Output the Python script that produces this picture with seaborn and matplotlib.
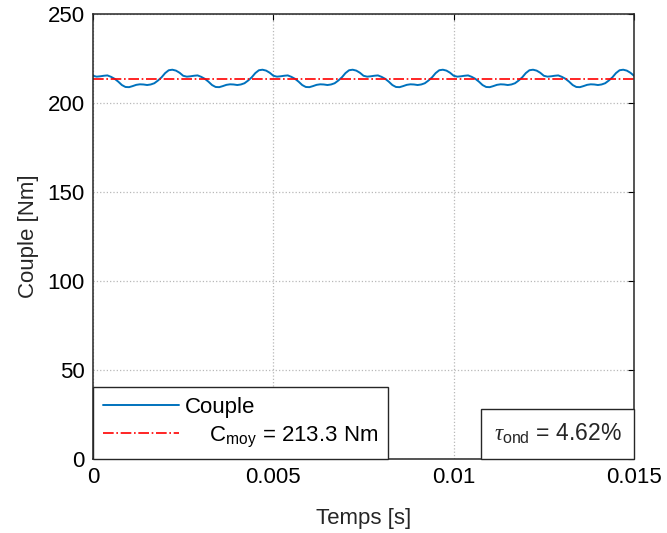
import numpy as np
import pandas as pd
import matplotlib
matplotlib.use("Agg")
import matplotlib.pyplot as plt
import seaborn as sns
from matplotlib.offsetbox import AnchoredText

# ---------------- data ----------------
t_start = 0.0
t_end = 0.015
n_samples = 151
couple = [
    215.3, 214.8, 215.0, 215.3, 215.5, 214.7, 213.6, 212.0, 210.1, 209.0,
    208.9, 209.5, 210.2, 210.5, 210.4, 210.1, 210.4, 211.1, 212.6, 214.4,
    216.8, 218.4, 218.7, 218.2, 217.0,
    215.3, 214.8, 215.0, 215.3, 215.5, 214.7, 213.6, 212.0, 210.1, 209.0,
    208.9, 209.5, 210.2, 210.5, 210.4, 210.1, 210.4, 211.1, 212.6, 214.4,
    216.8, 218.4, 218.7, 218.2, 217.0,
    215.3, 214.8, 215.0, 215.3, 215.5, 214.7, 213.6, 212.0, 210.1, 209.0,
    208.9, 209.5, 210.2, 210.5, 210.4, 210.1, 210.4, 211.1, 212.6, 214.4,
    216.8, 218.4, 218.7, 218.2, 217.0,
    215.3, 214.8, 215.0, 215.3, 215.5, 214.7, 213.6, 212.0, 210.1, 209.0,
    208.9, 209.5, 210.2, 210.5, 210.4, 210.1, 210.4, 211.1, 212.6, 214.4,
    216.8, 218.4, 218.7, 218.2, 217.0,
    215.3, 214.8, 215.0, 215.3, 215.5, 214.7, 213.6, 212.0, 210.1, 209.0,
    208.9, 209.5, 210.2, 210.5, 210.4, 210.1, 210.4, 211.1, 212.6, 214.4,
    216.8, 218.4, 218.7, 218.2, 217.0,
    215.3, 214.8, 215.0, 215.3, 215.5, 214.7, 213.6, 212.0, 210.1, 209.0,
    208.9, 209.5, 210.2, 210.5, 210.4, 210.1, 210.4, 211.1, 212.6, 214.4,
    216.8, 218.4, 218.7, 218.2, 217.0,
    215.3,
]
c_moy = 213.3
tau_ond = 4.62
x_ticks = [0, 0.005, 0.01, 0.015]
x_tick_labels = ["0", "0.005", "0.01", "0.015"]
y_ticks = [0, 50, 100, 150, 200, 250]
y_tick_labels = ["0", "50", "100", "150", "200", "250"]

temps = np.linspace(t_start, t_end, n_samples)
df = pd.DataFrame({"Temps": temps, "Couple": couple})

# ---------------- style ----------------
sns.set_theme(style="white")
plt.rcParams["font.family"] = ["Liberation Sans", "DejaVu Sans"]
plt.rcParams["mathtext.fontset"] = "custom"
plt.rcParams["mathtext.rm"] = "Liberation Sans"
plt.rcParams["mathtext.it"] = "Liberation Serif:italic"

FS = 16
fig = plt.figure(figsize=(6.67, 5.33), dpi=100)
ax = fig.add_axes([93 / 667, 1 - 459 / 533, (634 - 93) / 667, (459 - 14) / 533])

sns.lineplot(data=df, x="Temps", y="Couple", ax=ax, color="#0072BD",
             linewidth=1.4, label="Couple")
ax.axhline(c_moy, color="#FF0000", linestyle="-.", linewidth=1.2,
           label=r"    C$_{\mathrm{moy}}$ = %.1f Nm" % c_moy)

ax.set_xlim(x_ticks[0], x_ticks[-1])
ax.set_ylim(y_ticks[0], y_ticks[-1])
ax.set_xticks(x_ticks)
ax.set_xticklabels(x_tick_labels, fontsize=FS)
ax.set_yticks(y_ticks)
ax.set_yticklabels(y_tick_labels, fontsize=FS)
ax.set_xlabel("Temps [s]", fontsize=FS, labelpad=14)
ax.set_ylabel("Couple [Nm]", fontsize=FS, labelpad=6)

ax.grid(True, color="#b8b8b8", linestyle=":", linewidth=0.9)
ax.tick_params(direction="in", length=4, width=0.8, top=True, right=True,
               colors="black", labelcolor="black", pad=6)
for s in ax.spines.values():
    s.set_visible(True)
    s.set_color("#262626")
    s.set_linewidth(1.1)

leg = ax.legend(loc="lower left", borderaxespad=0, fontsize=FS,
                handlelength=3.4, handletextpad=0.3, fancybox=False,
                framealpha=1, edgecolor="#262626", borderpad=0.45,
                labelspacing=0.3)
leg.get_frame().set_linewidth(1.0)
for txt in leg.get_texts():
    txt.set_color("black")

at = AnchoredText(r"$\tau_{\mathrm{ond}}$ = %.2f%%" % tau_ond, loc="lower right",
                  borderpad=0, pad=0.55, frameon=True, prop=dict(size=FS + 0.5))
at.patch.set_boxstyle("square,pad=0")
at.patch.set_edgecolor("#262626")
at.patch.set_linewidth(1.0)
ax.add_artist(at)

fig.savefig("out.png", dpi=100, facecolor="white")
